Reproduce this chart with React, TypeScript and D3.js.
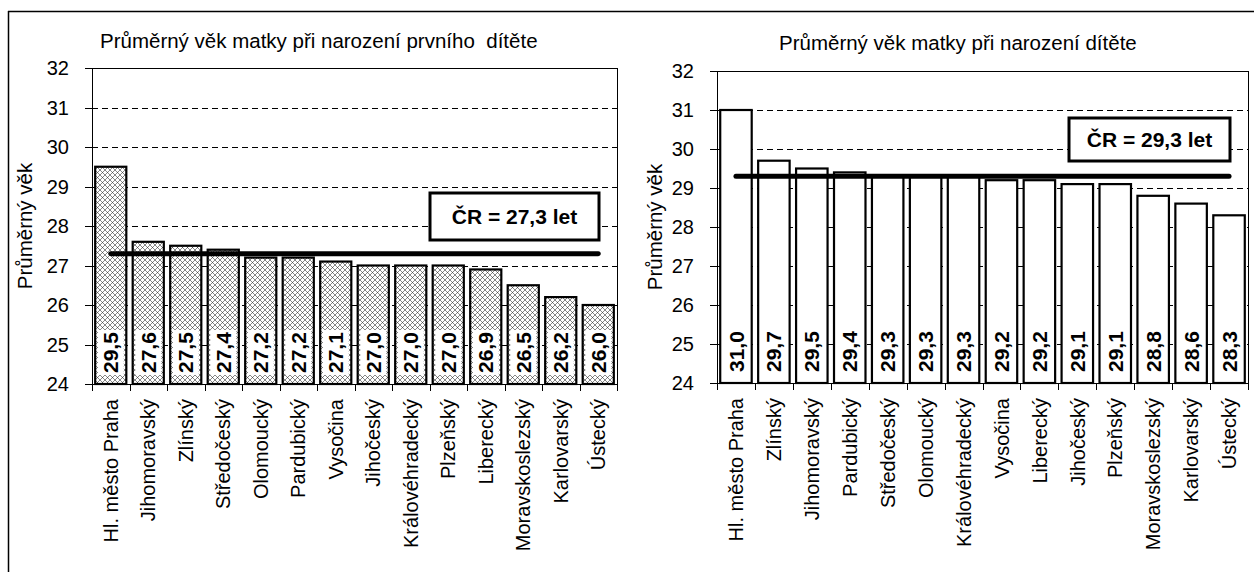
import React from "react";
import * as d3 from "d3";

const leftCategories = ["Hl. město Praha", "Jihomoravský", "Zlínský", "Středočeský", "Olomoucký", "Pardubický", "Vysočina", "Jihočeský", "Královéhradecký", "Plzeňský", "Liberecký", "Moravskoslezský", "Karlovarský", "Ústecký"];
const leftValues = [29.5, 27.6, 27.5, 27.4, 27.2, 27.2, 27.1, 27.0, 27.0, 27.0, 26.9, 26.5, 26.2, 26.0];
const leftAverage = 27.3;
const leftTitle = "Průměrný věk matky při narození prvního  dítěte";
const leftAvgLabel = "ČR = 27,3 let";

const rightCategories = ["Hl. město Praha", "Zlínský", "Jihomoravský", "Pardubický", "Středočeský", "Olomoucký", "Královéhradecký", "Vysočina", "Liberecký", "Jihočeský", "Plzeňský", "Moravskoslezský", "Karlovarský", "Ústecký"];
const rightValues = [31.0, 29.7, 29.5, 29.4, 29.3, 29.3, 29.3, 29.2, 29.2, 29.1, 29.1, 28.8, 28.6, 28.3];
const rightAverage = 29.3;
const rightTitle = "Průměrný věk matky při narození dítěte";
const rightAvgLabel = "ČR = 29,3 let";

const yTicks = [24, 25, 26, 27, 28, 29, 30, 31, 32];
const yAxisTitle = "Průměrný věk";

const FONT = "Arial, 'Liberation Sans', sans-serif";

type PanelProps = {
  categories: string[];
  values: number[];
  average: number;
  title: string;
  avgLabel: string;
  x0: number;
  x1: number;
  yTop: number;
  yBot: number;
  titleX: number;
  titleY: number;
  yTitleX: number;
  box: { x: number; y: number; w: number; h: number };
  hatch: boolean;
};

const fmt = (v: number) => d3.format(".1f")(v).replace(".", ",");

function Panel(p: PanelProps) {
  const x = d3.scaleBand<string>().domain(p.categories).range([p.x0, p.x1]).paddingInner(0.17).paddingOuter(0.085);
  const y = d3.scaleLinear().domain([24, 32]).range([p.yBot, p.yTop]);
  const step = x.step();
  const bw = x.bandwidth();
  const boundaries = d3.range(p.categories.length + 1).map((i) => p.x0 + i * step);
  const first = p.categories[0];
  const last = p.categories[p.categories.length - 1];
  return (
    <g>
      <text x={p.titleX} y={p.titleY} style={{ whiteSpace: "pre" }} fontFamily={FONT} fontSize={20.5} fill="#000">{p.title}</text>
      {yTicks.filter((t) => t > 24 && t < 32).map((t) => (
        <line key={"g" + t} x1={p.x0} x2={p.x1} y1={Math.round(y(t)) + 0.5} y2={Math.round(y(t)) + 0.5} stroke="#000" strokeWidth={1} strokeDasharray="6,4" />
      ))}
      <line x1={p.x0} x2={p.x1} y1={Math.round(y(32)) + 0.5} y2={Math.round(y(32)) + 0.5} stroke="#000" strokeWidth={1} />
      <line x1={p.x1 + 0.5} x2={p.x1 + 0.5} y1={y(32)} y2={y(24)} stroke="#000" strokeWidth={1} />
      {yTicks.map((t) => (
        <g key={"t" + t}>
          <line x1={p.x0 - 7} x2={p.x0} y1={Math.round(y(t)) + 0.5} y2={Math.round(y(t)) + 0.5} stroke="#000" strokeWidth={1} />
          <text x={p.x0 - 23} y={y(t)} dy="0.36em" textAnchor="end" fontFamily={FONT} fontSize={20} fill="#000">{t}</text>
        </g>
      ))}
      <text transform={`translate(${p.yTitleX},${(p.yTop + p.yBot) / 2}) rotate(-90)`} textAnchor="middle" dy="0.36em" fontFamily={FONT} fontSize={20.5} fill="#000">{yAxisTitle}</text>
      {p.categories.map((c, i) => (
        <rect key={"b" + c} x={(x(c) as number)} y={y(p.values[i])} width={bw} height={y(24) - y(p.values[i])} fill={p.hatch ? "url(#hatch)" : "#fff"} stroke="#000" strokeWidth={2.2} />
      ))}
      {p.categories.map((c, i) => {
        const cx = (x(c) as number) + bw / 2;
        const base = y(24) - 9;
        return (
          <g key={"v" + c}>
            <rect x={cx - 13} y={base - 45} width={26} height={45} fill="#fff" />
            <text transform={`translate(${cx},${base - 2}) rotate(-90)`} dy="0.36em" textAnchor="start" fontFamily={FONT} fontWeight="bold" fontSize={21} fill="#000">{fmt(p.values[i])}</text>
          </g>
        );
      })}
      <line x1={p.x0 + 0.5} x2={p.x0 + 0.5} y1={y(32)} y2={y(24)} stroke="#000" strokeWidth={1} />
      <line x1={p.x0} x2={p.x1} y1={Math.round(y(24)) + 0.5} y2={Math.round(y(24)) + 0.5} stroke="#000" strokeWidth={1} />
      {boundaries.map((bx, i) => (
        <line key={"xt" + i} x1={Math.round(bx) + 0.5} x2={Math.round(bx) + 0.5} y1={y(24)} y2={y(24) + 7} stroke="#000" strokeWidth={1} />
      ))}
      {p.categories.map((c) => (
        <text key={"c" + c} transform={`translate(${(x(c) as number) + bw / 2},${y(24) + 15}) rotate(-90)`} dy="0.36em" textAnchor="end" fontFamily={FONT} fontSize={20} fill="#000">{c}</text>
      ))}
      <line x1={(x(first) as number) + bw / 2} x2={(x(last) as number) + bw / 2} y1={y(p.average)} y2={y(p.average)} stroke="#000" strokeWidth={5} strokeLinecap="round" />
      <rect x={p.box.x} y={p.box.y} width={p.box.w} height={p.box.h} fill="#fff" stroke="#000" strokeWidth={3} />
      <text x={p.box.x + p.box.w / 2} y={p.box.y + p.box.h / 2} dy="0.36em" textAnchor="middle" fontFamily={FONT} fontWeight="bold" fontSize={21} fill="#000">{p.avgLabel}</text>
    </g>
  );
}

export default function App() {
  return (
    <svg width={1254} height={572} style={{ position: "absolute", left: 0, top: 0, background: "#fff" }}>
      <defs>
        <pattern id="hatch" patternUnits="userSpaceOnUse" width={5} height={5}>
          <rect width={5} height={5} fill="#fff" />
          <path d="M0,0 L5,5 M5,0 L0,5" stroke="#222" strokeWidth={0.55} />
        </pattern>
      </defs>
      <rect width={1254} height={572} fill="#fff" />
      <line x1={8} x2={1254} y1={11.5} y2={11.5} stroke="#000" strokeWidth={1.5} />
      <line x1={8.5} x2={8.5} y1={11} y2={572} stroke="#000" strokeWidth={1.5} />
      <Panel categories={leftCategories} values={leftValues} average={leftAverage} title={leftTitle} avgLabel={leftAvgLabel}
        x0={92} x1={617} yTop={68} yBot={384} titleX={100} titleY={48} yTitleX={25} box={{ x: 430, y: 193, w: 169, h: 47 }} hatch={true} />
      <Panel categories={rightCategories} values={rightValues} average={rightAverage} title={rightTitle} avgLabel={rightAvgLabel}
        x0={717} x1={1248} yTop={71} yBot={383} titleX={779} titleY={50} yTitleX={655} box={{ x: 1069, y: 118, w: 161, h: 43 }} hatch={false} />
    </svg>
  );
}
